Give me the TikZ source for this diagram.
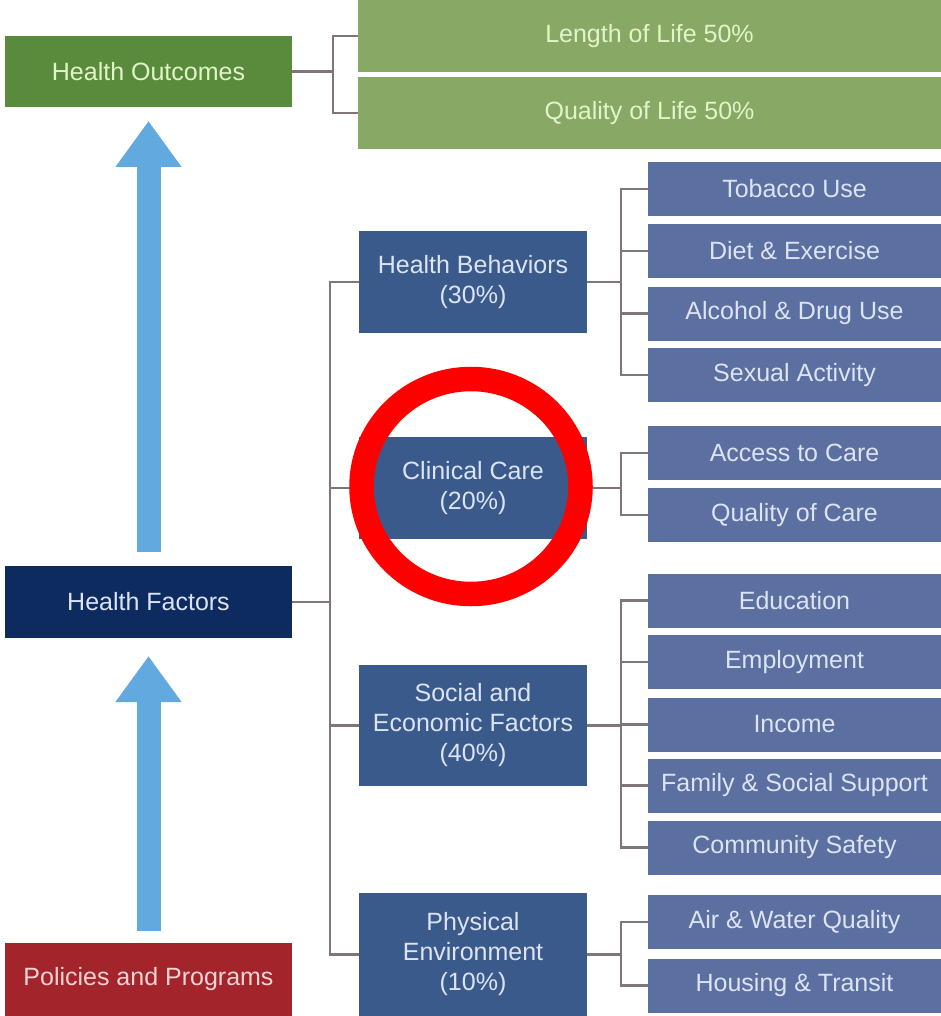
\documentclass[tikz,border=0pt]{standalone}
\usepackage{fontspec}
\setmainfont{Liberation Sans}
\usetikzlibrary{arrows.meta,calc}

\definecolor{outgreen}{HTML}{5A8A3C}
\definecolor{lifegreen}{HTML}{88A865}
\definecolor{factnavy}{HTML}{0D2B5E}
\definecolor{catblue}{HTML}{3B5A8C}
\definecolor{subblue}{HTML}{5B6FA0}
\definecolor{polred}{HTML}{A3252B}
\definecolor{arrowblue}{HTML}{62A9E0}
\definecolor{linkgray}{HTML}{80767A}
\definecolor{greentext}{HTML}{E2F5C8}
\definecolor{bluetext}{HTML}{DCE4F4}
\definecolor{redtext}{HTML}{F6D3D3}
\definecolor{ringred}{HTML}{FF0000}

\begin{document}
\begin{tikzpicture}[x=1pt,y=-1pt,
  box/.style={rectangle, inner sep=0pt, outer sep=0pt, align=center,
    font=\fontsize{25}{30}\selectfont},
  mainbox/.style={box, minimum width=287pt},
  lifebox/.style={box, fill=lifegreen, text=greentext, minimum width=583pt, minimum height=72pt},
  catbox/.style={box, fill=catblue, text=bluetext, minimum width=228pt},
  subbox/.style={box, fill=subblue, text=bluetext, minimum width=293pt, minimum height=54pt},
  conn/.style={draw=linkgray, line width=2.5pt},
  bigarrow/.style={draw=arrowblue, line width=24pt,
    -{Triangle[length=46pt,width=63pt]}},
  ring/.style={draw=ringred, line width=24.5pt}
]
\useasboundingbox (0,0) rectangle (941,1016);

% left column
\node[mainbox, fill=outgreen, text=greentext, minimum height=71pt] (ho) at (148.5,71.5) {Health Outcomes};
\node[mainbox, fill=factnavy, text=bluetext, minimum height=72pt] (hf) at (148.5,602) {Health Factors};
\node[mainbox, fill=polred, text=redtext, minimum height=73pt] (pp) at (148.5,979.5) {Policies and Programs};

% outcomes
\node[lifebox] (ll) at (649.5,36) {Length of Life 50\%};
\node[lifebox] (ql) at (649.5,113) {Quality of Life 50\%};

% factor categories
\node[catbox, minimum height=102pt] (hb) at (473,282) {Health Behaviors\\(30\%)};
\node[catbox, minimum height=102pt] (cc) at (473,488) {Clinical Care\\(20\%)};
\node[catbox, minimum height=121pt] (se) at (473,725.5) {Social and\\Economic Factors\\(40\%)};
\node[catbox, minimum height=123pt] (pe) at (473,954.5) {Physical\\Environment\\(10\%)};

% sub-factors
\node[subbox] (tu) at (794.5,189) {Tobacco Use};
\node[subbox] (de) at (794.5,251) {Diet \& Exercise};
\node[subbox] (ad) at (794.5,313.5) {Alcohol \& Drug Use};
\node[subbox] (sa) at (794.5,375) {Sexual Activity};
\node[subbox] (ac) at (794.5,453) {Access to Care};
\node[subbox] (qc) at (794.5,515) {Quality of Care};
\node[subbox] (ed) at (794.5,600.5) {Education};
\node[subbox] (em) at (794.5,662) {Employment};
\node[subbox] (in) at (794.5,724.5) {Income};
\node[subbox] (fs) at (794.5,785.5) {Family \& Social Support};
\node[subbox] (cs) at (794.5,847.5) {Community Safety};
\node[subbox] (aw) at (794.5,922) {Air \& Water Quality};
\node[subbox] (ht) at (794.5,985.5) {Housing \& Transit};

% junction points of the brackets, level with their parent box
\coordinate (hoJ) at ($(ho.east)+(41,0)$);
\coordinate (hfJ) at ($(hf.east)+(38,0)$);
\coordinate (hbJ) at ($(hb.east)+(34,0)$);
\coordinate (ccJ) at ($(cc.east)+(34,0)$);
\coordinate (seJ) at ($(se.east)+(34,0)$);
\coordinate (peJ) at ($(pe.east)+(34,0)$);

% outcome bracket
\draw[conn] (ho.east) -- (hoJ);
\draw[conn] (ll.west) -| (hoJ) |- (ql.west);

% factor bracket
\draw[conn] (hf.east) -- (hfJ);
\draw[conn] (hb.west) -| (hfJ) |- (pe.west);
\draw[conn] (hfJ |- cc.west) -- (cc.west);
\draw[conn] (hfJ |- se.west) -- (se.west);

% sub-factor brackets
\draw[conn] (hb.east) -- (hbJ);
\draw[conn] (tu.west) -| (hbJ) |- (sa.west);
\draw[conn] (hbJ |- de.west) -- (de.west);
\draw[conn] (hbJ |- ad.west) -- (ad.west);

\draw[conn] (cc.east) -- (ccJ);
\draw[conn] (ac.west) -| (ccJ) |- (qc.west);

\draw[conn] (se.east) -- (seJ);
\draw[conn] (ed.west) -| (seJ) |- (cs.west);
\draw[conn] (seJ |- em.west) -- (em.west);
\draw[conn] (seJ |- in.west) -- (in.west);
\draw[conn] (seJ |- fs.west) -- (fs.west);

\draw[conn] (pe.east) -- (peJ);
\draw[conn] (aw.west) -| (peJ) |- (ht.west);

% upward arrows
\draw[bigarrow] ($(pp.north)+(0,-12)$) -- ($(hf.south)+(0,18)$);
\draw[bigarrow] ($(hf.north)+(0,-14)$) -- ($(ho.south)+(0,14)$);

% highlight ring
\coordinate (ringc) at (471,486.5);
\draw[ring] (ringc) ellipse[x radius=109.5pt, y radius=107.5pt];
\end{tikzpicture}
\end{document}
